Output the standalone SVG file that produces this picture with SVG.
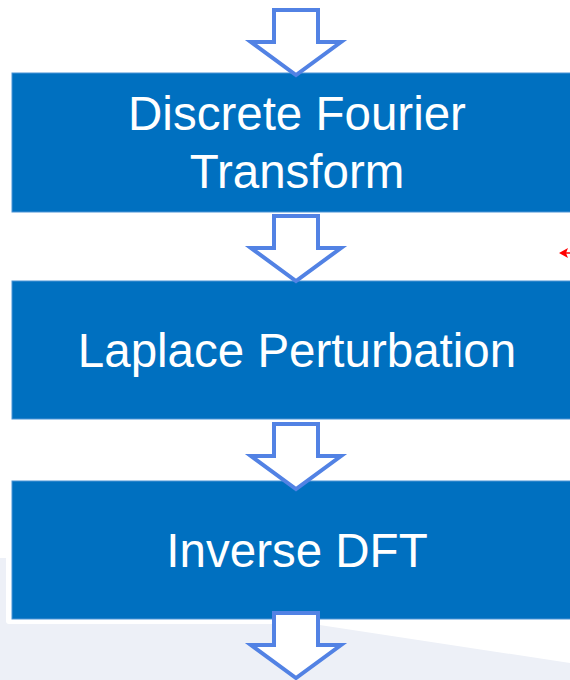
<svg xmlns="http://www.w3.org/2000/svg" width="570" height="680" viewBox="0 0 570 680">
<defs>
<style>
.box{fill:#0070C0;stroke:#4A93D6;stroke-width:1}
.lbl{font-family:"Liberation Sans",Arial,sans-serif;font-size:47.5px;fill:#FFFFFF;text-anchor:middle}
.arr{fill:#FFFFFF;stroke:#5282E4;stroke-width:4;stroke-linejoin:miter}
</style>
<path id="blockArrow" d="M -22,0 H 22 V 32 H 45 L 0,65 L -45,32 H -22 Z"/>
<linearGradient id="edge" x1="300" y1="0" x2="570" y2="0" gradientUnits="userSpaceOnUse">
<stop offset="0" stop-color="#EDF0F7"/>
<stop offset="1" stop-color="#EDF0F7"/>
</linearGradient>
</defs>
<rect width="570" height="680" fill="#FFFFFF"/>
<polygon points="0,558 300,558 300,622 570,663 570,680 0,680" fill="#EDF0F7"/>
<rect x="6" y="475" width="600" height="149" rx="3" fill="#FFFFFF"/>
<g id="node-dft">
<rect class="box" x="12" y="73" width="600" height="139"/>
<text class="lbl" x="297" y="130">Discrete Fourier</text>
<text class="lbl" x="297" y="188">Transform</text>
</g>
<g id="node-laplace">
<rect class="box" x="12" y="281" width="600" height="138"/>
<text class="lbl" x="297" y="367">Laplace Perturbation</text>
</g>
<g id="node-idft">
<rect class="box" x="12" y="481" width="600" height="138"/>
<text class="lbl" x="297" y="567">Inverse DFT</text>
</g>
<g id="connectors">
<use href="#blockArrow" class="arr" transform="translate(296,10)"/>
<use href="#blockArrow" class="arr" transform="translate(296,216)"/>
<use href="#blockArrow" class="arr" transform="translate(296,424)"/>
<use href="#blockArrow" class="arr" transform="translate(296,613)"/>
<line x1="564" y1="253" x2="572" y2="253" stroke="#FF0000" stroke-width="1.5"/>
<polygon points="559,253 568,248 566,253 568,258" fill="#FF0000"/>
</g>
</svg>
